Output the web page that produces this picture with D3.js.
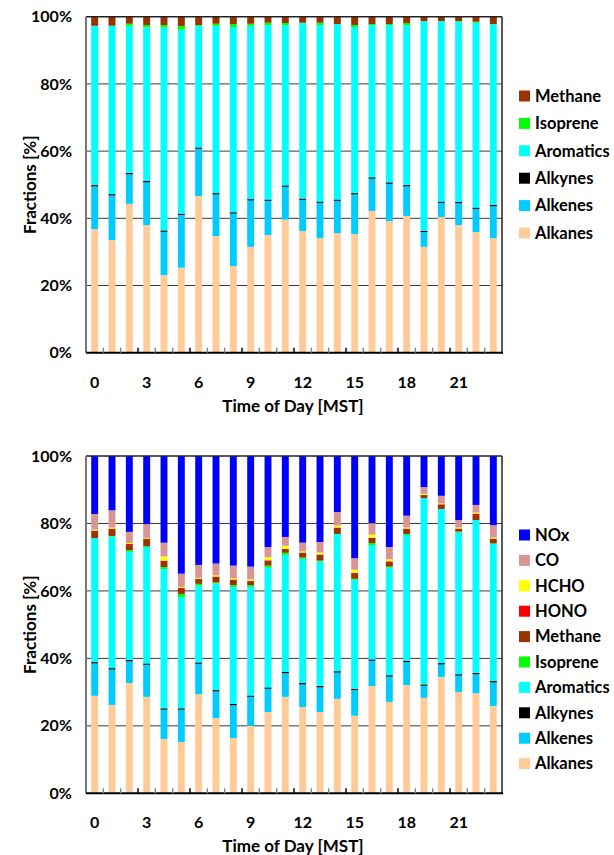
<!DOCTYPE html>
<html>
<head>
<meta charset="utf-8">
<script src="https://cdn.jsdelivr.net/npm/d3@7"></script>
<style>
  html, body { margin: 0; padding: 0; background: #fff; }
  svg { display: block; }
  text { font-family: Lato, "Open Sans", "Liberation Sans", sans-serif; font-weight: bold; fill: #000; }
</style>
</head>
<body>
<svg id="chart" width="614" height="855"></svg>
<script>
// Hour of day (MST)
const hours = [0,1,2,3,4,5,6,7,8,9,10,11,12,13,14,15,16,17,18,19,20,21,22,23];
const hourTickLabels = [0, 3, 6, 9, 12, 15, 18, 21];
const yTicks = [0, 20, 40, 60, 80, 100];

// ---- Upper panel: VOC classes (% of total) ----
const vocAlkanes   = [36.8,33.5,44.3,38.0,23.1,25.3,46.6,34.7,25.8,31.5,35.0,39.6,36.2,34.1,35.6,35.3,42.2,39.2,40.7,31.5,40.4,38.0,35.9,34.1];
const vocAlkenes   = [12.7,13.3,8.8,12.7,12.9,15.7,14.1,12.4,15.6,13.8,10.2,9.8,9.3,10.5,9.6,11.8,9.6,11.1,8.8,4.4,4.2,6.5,6.9,9.5];
const vocAlkynes   = [0.4,0.4,0.4,0.4,0.4,0.4,0.4,0.4,0.4,0.4,0.4,0.4,0.4,0.4,0.4,0.4,0.4,0.4,0.4,0.4,0.4,0.4,0.4,0.4];
const vocAromatics = [47.4,50.1,43.8,45.7,60.4,54.7,36.2,49.8,55.1,51.6,51.9,47.7,52.2,52.5,52.2,49.4,45.3,46.8,47.6,62.4,53.7,53.6,55.0,53.8];
const vocIsoprene  = [0,0,0.6,0.7,0.7,1.1,0.2,0.6,0.9,0.6,0.7,0.6,0.1,0.7,0,0.6,0.3,0.3,0.6,0,0,0.2,0.3,0];
const vocMethane   = [2.7,2.7,2.1,2.5,2.5,2.8,2.5,2.1,2.2,2.1,1.8,1.9,1.8,1.8,2.2,2.5,2.2,2.2,1.9,1.3,1.3,1.3,1.5,2.2];

// ---- Lower panel: all reactants (% of total) ----
const allAlkanes   = [28.9,26.2,32.7,28.6,16.1,15.2,29.4,22.3,16.4,20.0,24.1,28.6,25.6,24.1,28.0,23.0,31.8,27.1,32.1,28.3,34.5,30.0,29.7,25.9];
const allAlkenes   = [9.6,10.5,6.4,9.5,8.7,9.6,9.0,7.9,9.7,8.6,6.9,7.0,6.7,7.3,7.8,7.6,7.5,7.5,6.8,3.6,3.7,4.9,5.6,7.0];
const allAlkynes   = [0.4,0.4,0.4,0.4,0.4,0.4,0.4,0.4,0.4,0.4,0.4,0.4,0.4,0.4,0.4,0.4,0.4,0.4,0.4,0.4,0.4,0.4,0.4,0.4];
const allAromatics = [36.8,39.0,32.1,34.5,41.3,33.0,22.8,31.6,34.7,32.2,35.5,34.7,36.8,36.9,40.7,32.3,33.9,31.9,37.3,55.2,45.7,42.0,45.3,40.6];
const allIsoprene  = [0,0.2,0.5,0.3,0.6,0.9,0.5,0.3,0.5,0.5,0.6,0.6,0.4,0.3,0,0.3,0.6,0.3,0.3,0,0,0.3,0,0.2];
const allMethane   = [2.1,2.1,1.5,2.1,1.8,1.5,1.4,1.7,1.6,1.2,1.5,1.1,1.4,1.7,1.8,1.7,1.5,1.5,1.5,0.9,1.2,0.8,1.5,1.3];
const allHONO      = [0.1,0.1,0.3,0.1,0.1,0.3,0.1,0.1,0.1,0.1,0.1,0.1,0.1,0.1,0.1,0.1,0.1,0.1,0.1,0.1,0.2,0.1,0.4,0.1];
const allHCHO      = [0.3,0.3,0.3,0.2,1.2,0.3,0.3,0.3,0.4,0.4,0.9,0.9,0.3,0.6,0.6,0.9,0.9,0.6,0.3,0.3,0.2,0.3,0.3,0.3];
const allCO        = [4.6,5.1,3.3,4.1,4.1,3.9,3.8,3.5,3.7,3.8,3.0,2.6,2.6,3.1,4.0,3.4,3.4,3.6,3.5,2.0,2.3,2.2,2.3,3.7];
const allNOx       = [17.2,16.1,22.5,20.2,25.7,34.9,32.3,31.9,32.5,32.8,27.0,24.0,25.7,25.5,16.6,30.3,19.9,27.0,17.7,9.2,11.8,19.0,14.5,20.5];

const colors = {
  Alkanes: "#FFCC99", Alkenes: "#00CCFF", Alkynes: "#000000", Aromatics: "#00FFFF",
  Isoprene: "#00FF00", Methane: "#993300", HONO: "#FF0000", HCHO: "#FFFF00",
  CO: "#D99594", NOx: "#0000FF"
};

const topSeries = {
  Alkanes: vocAlkanes, Alkenes: vocAlkenes, Alkynes: vocAlkynes,
  Aromatics: vocAromatics, Isoprene: vocIsoprene, Methane: vocMethane
};
const bottomSeries = {
  Alkanes: allAlkanes, Alkenes: allAlkenes, Alkynes: allAlkynes, Aromatics: allAromatics,
  Isoprene: allIsoprene, Methane: allMethane, HONO: allHONO, HCHO: allHCHO, CO: allCO, NOx: allNOx
};

const svg = d3.select("#chart");

function panel(cfg) {
  const { series, top, bottom, left, right, legendY, legendStep } = cfg;
  const keys = Object.keys(series);
  const rows = hours.map((h, i) => {
    const r = { hour: h };
    keys.forEach(k => r[k] = series[k][i]);
    return r;
  });
  const stacked = d3.stack().keys(keys)(rows);

  const x = d3.scaleBand().domain(hours).range([left, right]).paddingInner(0.6).paddingOuter(0.3);
  const y = d3.scaleLinear().domain([0, 100]).range([bottom, top]);
  const g = svg.append("g");

  // horizontal gridlines
  g.append("g").selectAll("line").data(yTicks.filter(t => t > 0 && t < 100)).join("line")
    .attr("x1", left).attr("x2", right)
    .attr("y1", d => y(d)).attr("y2", d => y(d))
    .attr("stroke", "#3a3a3a").attr("stroke-width", 1);

  // stacked bars
  g.append("g").selectAll("g").data(stacked).join("g")
    .attr("fill", d => colors[d.key])
    .selectAll("rect").data(d => d).join("rect")
    .attr("x", d => x(d.data.hour))
    .attr("width", x.bandwidth())
    .attr("y", d => y(d[1]))
    .attr("height", d => Math.max(0, y(d[0]) - y(d[1])));

  // frame
  g.append("line").attr("x1", left).attr("x2", right).attr("y1", top).attr("y2", top)
    .attr("stroke", "#222").attr("stroke-width", 1.5);
  g.append("line").attr("x1", right).attr("x2", right).attr("y1", top).attr("y2", bottom)
    .attr("stroke", "#222").attr("stroke-width", 1.5);
  g.append("line").attr("x1", left).attr("x2", left).attr("y1", top).attr("y2", bottom)
    .attr("stroke", "#777").attr("stroke-width", 2);

  // x axis with small inward ticks at band boundaries
  const xAxis = g.append("g").attr("transform", `translate(0,${bottom})`);
  xAxis.append("line").attr("x1", left).attr("x2", right + 1)
    .attr("stroke", "#000").attr("stroke-width", 2);
  const step = x.step();
  xAxis.selectAll("line.tk").data(d3.range(1, hours.length)).join("line")
    .attr("class", "tk")
    .attr("x1", i => left + i * step).attr("x2", i => left + i * step)
    .attr("y1", 0).attr("y2", -5)
    .attr("stroke", i => i % 3 === 0 ? "#000" : "#888").attr("stroke-width", 1.5);
  xAxis.selectAll("text").data(hourTickLabels).join("text")
    .attr("x", d => x(d) + x.bandwidth() / 2)
    .attr("y", 35)
    .attr("text-anchor", "middle")
    .attr("font-size", 16)
    .text(d => d);

  // y axis labels
  g.append("g").selectAll("text").data(yTicks).join("text")
    .attr("x", left - 14)
    .attr("y", d => y(d))
    .attr("dy", "0.35em")
    .attr("text-anchor", "end")
    .attr("font-size", 16)
    .text(d => d + "%");

  // axis titles
  g.append("text")
    .attr("transform", `translate(36,${(top + bottom) / 2}) rotate(-90)`)
    .attr("text-anchor", "middle")
    .attr("font-size", 17)
    .text("Fractions [%]");
  g.append("text")
    .attr("x", (left + right) / 2 - 1).attr("y", bottom + 59)
    .attr("text-anchor", "middle")
    .attr("font-size", 17)
    .text("Time of Day [MST]");

  // legend (top entry = last stacked series)
  const legendKeys = keys.slice().reverse();
  const lg = g.append("g").selectAll("g").data(legendKeys).join("g")
    .attr("transform", (d, i) => `translate(519,${legendY + i * legendStep})`);
  lg.append("rect").attr("x", 0).attr("y", -5.5).attr("width", 11).attr("height", 11)
    .attr("fill", d => colors[d]);
  lg.append("text").attr("x", 16).attr("y", 0).attr("dy", "0.35em")
    .attr("font-size", 16.5).text(d => d);
}

panel({ series: topSeries, top: 16.7, bottom: 352.7, left: 86, right: 502, legendY: 96, legendStep: 27.4 });
panel({ series: bottomSeries, top: 456, bottom: 793.3, left: 86, right: 502, legendY: 535, legendStep: 25.4 });
</script>
</body>
</html>
